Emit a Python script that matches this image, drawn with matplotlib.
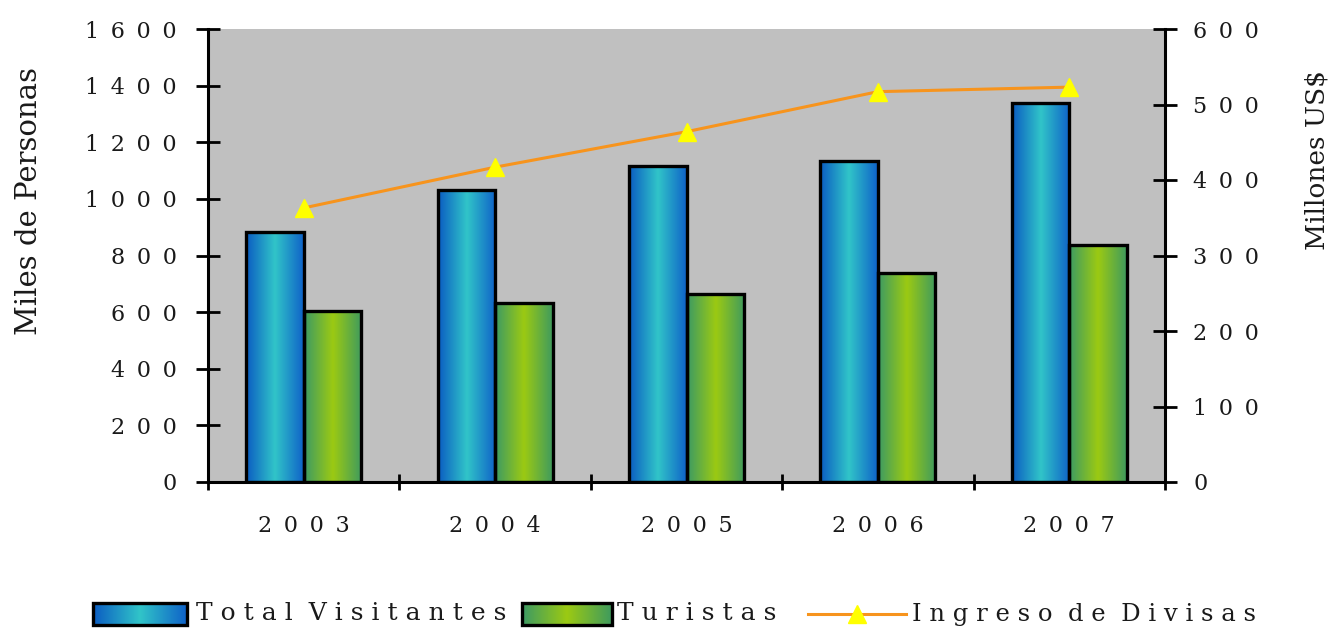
import matplotlib.pyplot as plt
import numpy as np
from matplotlib.colors import LinearSegmentedColormap
from matplotlib.patches import Rectangle

years = ["2003", "2004", "2005", "2006", "2007"]
total_visitantes = [883, 1031, 1116, 1134, 1339]
turistas = [604, 632, 664, 738, 837]
ingreso_divisas = [363, 417, 464, 517, 523]

left_ticks = [0, 200, 400, 600, 800, 1000, 1200, 1400, 1600]
right_ticks = [0, 100, 200, 300, 400, 500, 600]

BLUE = LinearSegmentedColormap.from_list(
    "blue", [(0, "#0b5cc2"), (0.5, "#31c5c9"), (1, "#0f62c8")])
GREEN = LinearSegmentedColormap.from_list(
    "green", [(0, "#3c9a64"), (0.5, "#9cca12"), (1, "#3f9b5e")])
ORANGE = "#f7941d"
YELLOW = "#ffff00"
TEXT = "#1a1a1a"
ramp = np.linspace(0, 1, 128)[None, :]

plt.rcParams["font.family"] = "DejaVu Serif"

THIN = "\u2009"


def spread(text, gap=" " + THIN, word_gap="  "):
    # the source renders its text letter-spaced
    return word_gap.join(gap.join(word) for word in text.split(" "))


def gradient_fill(ax, x0, x1, y0, y1, cmap, zorder):
    ax.imshow(ramp, cmap=cmap, extent=(x0, x1, y0, y1), aspect="auto",
              interpolation="bilinear", zorder=zorder)


def gradient_bars(ax, x, heights, width, cmap):
    bars = ax.bar(x, heights, width, facecolor="none", edgecolor="black",
                  linewidth=2.4, zorder=3)
    for bar in bars:
        x0 = bar.get_x()
        gradient_fill(ax, x0, x0 + bar.get_width(), 0, bar.get_height(), cmap, 2)
    return bars


fig = plt.figure(figsize=(13.39, 6.31), dpi=100)
ax = fig.add_axes([208 / 1339, 149 / 631, 957 / 1339, 453 / 631])
ax.set_facecolor("#c0c0c0")

x = np.arange(len(years))
width = 0.3
gradient_bars(ax, x - width / 2, total_visitantes, width, BLUE)
gradient_bars(ax, x + width / 2, turistas, width, GREEN)

ax.set_xlim(-0.5, len(years) - 0.5)
ax.set_ylim(0, 1600)
ax.set_xticks(np.arange(len(years) + 1) - 0.5)
ax.set_xticklabels([])
ax.set_xticks(x, [spread(y) for y in years], minor=True)
ax.set_yticks(left_ticks, [spread(str(v)) for v in left_ticks])
ax.tick_params(axis="y", direction="inout", length=17, width=2,
               labelsize=16, pad=14, labelcolor=TEXT)
ax.tick_params(axis="x", which="major", direction="inout", length=12, width=2)
ax.tick_params(axis="x", which="minor", length=0, labelsize=16, pad=24,
               labelcolor=TEXT)
for spine in ax.spines.values():
    spine.set_linewidth(2.2)
ax.spines["top"].set_visible(False)
ax.spines["right"].set_visible(False)

ax.set_ylabel("Miles de Personas", fontsize=21, color=TEXT)
ax.yaxis.set_label_coords(-0.172, 0.62)

ax2 = ax.twinx()
ax2.plot(x, ingreso_divisas, color=ORANGE, linewidth=2.2, marker="^",
         markersize=13, markerfacecolor=YELLOW, markeredgecolor=YELLOW, zorder=4)
ax2.set_ylim(0, 600)
ax2.set_yticks(right_ticks, [spread(str(v)) for v in right_ticks])
ax2.tick_params(axis="y", direction="inout", length=17, width=2,
                labelsize=16, pad=12, labelcolor=TEXT)
for name, spine in ax2.spines.items():
    spine.set_visible(name == "right")
    spine.set_linewidth(2.2)
ax2.set_ylabel("Millones US$", fontsize=19, rotation=90, color=TEXT)
ax2.yaxis.set_label_coords(1.146, 0.71)

# legend drawn by hand, in pixel coordinates of the bottom strip
leg = fig.add_axes([0, 0, 1, 63 / 631])
leg.axis("off")
gradient_fill(leg, 93, 187, 625, 603, BLUE, 1)
leg.add_patch(Rectangle((93, 603), 94, 22, fill=False, edgecolor="black", linewidth=2.4, zorder=2))
leg.text(196, 614, spread("Total Visitantes", " ", "  "), fontsize=18,
         va="center", color=TEXT)
gradient_fill(leg, 522, 612, 625, 603, GREEN, 1)
leg.add_patch(Rectangle((522, 603), 90, 22, fill=False, edgecolor="black", linewidth=2.4, zorder=2))
leg.text(617, 614, spread("Turistas", " ", "  "), fontsize=18,
         va="center", color=TEXT)
leg.plot([808, 906], [614, 614], color=ORANGE, linewidth=2.2)
leg.plot([857], [614], marker="^", markersize=13, color=YELLOW)
leg.text(912, 614, spread("Ingreso de Divisas", " ", "  "), fontsize=17.5,
         va="center", color=TEXT)
leg.set_xlim(0, 1339)
leg.set_ylim(631, 568)

fig.savefig("out.png", dpi=100)
